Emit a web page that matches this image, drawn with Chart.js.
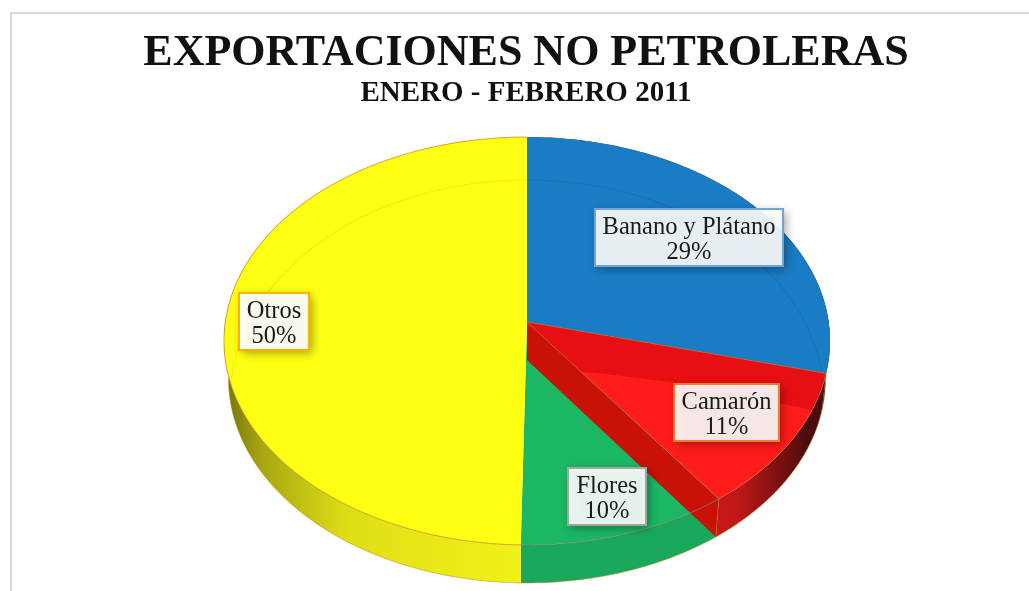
<!DOCTYPE html>
<html>
<head>
<meta charset="utf-8">
<script src="https://cdn.jsdelivr.net/npm/chart.js@4"></script>
<style>
  html, body { margin: 0; padding: 0; background: #fff; overflow: hidden; }
  #frame { position: absolute; left: 10px; top: 12px; width: 1100px; height: 700px; border-left: 2px solid #d9d9d9; border-top: 2px solid #d9d9d9; }
  canvas { position: absolute; left: 0; top: 0; }
</style>
</head>
<body>
<div id="frame"></div>
<canvas id="chart" width="1029" height="591"></canvas>
<script>
// values, labels round them to 29 / 11 / 10 / 50
const categories = ['Banano y Plátano', 'Camarón', 'Flores', 'Otros'];
const shares = [29, 11, 10.3, 49.7];
const sliceColors = ['#1a7cc4', '#ff1c1a', '#1bb763', '#ffff14'];
const title = 'EXPORTACIONES NO PETROLERAS';
const subtitle = 'ENERO - FEBRERO 2011';

// perspective of the disc on screen
const View = { cx: 527, cy: 322, a: 301.7, c: 202.2, e: -0.093, depth: 38, shrink: 0.985 };

const LabelStyles = [
  { x: 595, y: 209, w: 188, h: 57, fill: 'rgba(255,255,255,0.9)', border: '#6fa5da' },
  { x: 674, y: 384, w: 105, h: 57, fill: 'rgba(255,255,255,0.9)', border: '#ed7d31' },
  { x: 568, y: 468, w: 78, h: 57, fill: 'rgba(255,255,255,0.9)', border: '#a5a5a5' },
  { x: 239, y: 293, w: 70, h: 57, fill: 'rgba(255,255,255,0.93)', border: '#ffb000' }
];

function project(angle, r) {
  const u = Math.cos(angle) * r, v = Math.sin(angle) * r;
  const d = 1 + View.e * v;
  return { x: View.cx + View.a * u / d, y: View.cy + View.c * v / d };
}

function lowered(p) {
  return { x: View.cx + (p.x - View.cx) * View.shrink, y: p.y + View.depth };
}

function rimPoints(arc) {
  const pts = [];
  const steps = Math.max(2, Math.ceil((arc.endAngle - arc.startAngle) * 60));
  for (let i = 0; i <= steps; i++) {
    pts.push(project(arc.startAngle + (arc.endAngle - arc.startAngle) * i / steps, 1));
  }
  return pts;
}

function tracePoly(ctx, pts) {
  ctx.beginPath();
  pts.forEach((p, i) => i ? ctx.lineTo(p.x, p.y) : ctx.moveTo(p.x, p.y));
  ctx.closePath();
}

function wallFill(ctx, index) {
  const g = ctx.createLinearGradient(View.cx - 300, 0, View.cx + 300, 0);
  if (index === 3) {
    g.addColorStop(0, '#77770c');
    g.addColorStop(0.06, '#a8a812');
    g.addColorStop(0.2, '#dede16');
    g.addColorStop(0.5, '#f2f218');
    return g;
  }
  if (index === 2) return '#1aa85c';
  g.addColorStop(0.65, '#d81c1c');
  g.addColorStop(0.85, '#c01818');
  g.addColorStop(0.97, '#4a0c0c');
  return g;
}

const pie3d = {
  id: 'pie3d',
  beforeDatasetDraw() {
    return false; // the arcs are redrawn in perspective below
  },
  afterDatasetsDraw(chart) {
    const ctx = chart.ctx;
    const arcs = chart.getDatasetMeta(0).data;
    ctx.save();

    // outer walls
    arcs.forEach((arc, i) => {
      const top = rimPoints(arc);
      tracePoly(ctx, top.concat(top.map(lowered).reverse()));
      ctx.fillStyle = wallFill(ctx, i);
      ctx.fill();
    });
    ctx.lineWidth = 0.7;
    ctx.strokeStyle = 'rgba(190,130,20,0.7)';
    const lowerEdge = arcs.flatMap(a => rimPoints(a)).map(lowered).filter(p => p.y > View.cy + 55);
    ctx.beginPath();
    lowerEdge.forEach((p, i) => i ? ctx.lineTo(p.x, p.y) : ctx.moveTo(p.x, p.y));
    ctx.stroke();

    // top faces
    arcs.forEach((arc) => {
      const pts = [{ x: View.cx, y: View.cy }].concat(rimPoints(arc));
      tracePoly(ctx, pts);
      ctx.fillStyle = arc.options.backgroundColor;
      ctx.fill();
    });

    // darker band on the Camarón face
    ctx.save();
    tracePoly(ctx, [{ x: View.cx, y: View.cy }].concat(rimPoints(arcs[1])));
    ctx.clip();
    ctx.beginPath();
    ctx.moveTo(View.cx, View.cy);
    ctx.lineTo(850, View.cy);
    ctx.lineTo(850, 420);
    ctx.quadraticCurveTo(700, 380, 560, 370);
    ctx.closePath();
    ctx.fillStyle = '#e60f14';
    ctx.fill();
    ctx.restore();

    // faint bevel ring on the far half
    ctx.save();
    tracePoly(ctx, rimPoints({ startAngle: 0, endAngle: Math.PI * 2 }));
    ctx.clip();
    ctx.beginPath();
    ctx.ellipse(View.cx, 400, 297, 220, 0, Math.PI, Math.PI * 2);
    ctx.strokeStyle = 'rgba(40,40,0,0.09)';
    ctx.lineWidth = 1.2;
    ctx.stroke();
    ctx.restore();

    // inner wall left of the Camarón slice, lies over Flores
    const corner = project(arcs[1].endAngle, 1);
    const centre = { x: View.cx, y: View.cy };
    tracePoly(ctx, [centre, corner, lowered(corner), lowered(centre)]);
    ctx.fillStyle = '#c81208';
    ctx.fill();

    // rim lines
    ctx.lineWidth = 0.8;
    ctx.strokeStyle = 'rgba(130,130,130,0.9)';
    ctx.beginPath();
    rimPoints(arcs[2]).forEach((p, i) => i ? ctx.lineTo(p.x, p.y) : ctx.moveTo(p.x, p.y));
    ctx.stroke();

    ctx.strokeStyle = 'rgba(200,110,30,0.8)';
    [arcs[1], arcs[3]].forEach((arc) => {
      ctx.beginPath();
      rimPoints(arc).forEach((p, i) => i ? ctx.lineTo(p.x, p.y) : ctx.moveTo(p.x, p.y));
      ctx.stroke();
    });
    ctx.beginPath();
    ctx.moveTo(centre.x, centre.y);
    ctx.lineTo(corner.x, corner.y);
    ctx.lineTo(lowered(corner).x, lowered(corner).y);
    ctx.moveTo(centre.x, centre.y);
    const bananaEnd = project(arcs[0].endAngle, 1);
    ctx.lineTo(bananaEnd.x, bananaEnd.y);
    ctx.stroke();
    ctx.restore();

    // data labels
    arcs.forEach((arc, i) => {
      const s = LabelStyles[i];
      ctx.save();
      ctx.shadowColor = 'rgba(0,0,0,0.4)';
      ctx.shadowBlur = 9;
      ctx.shadowOffsetX = 3;
      ctx.shadowOffsetY = 3;
      ctx.fillStyle = s.fill;
      ctx.fillRect(s.x, s.y, s.w, s.h);
      ctx.shadowColor = 'transparent';
      ctx.strokeStyle = s.border;
      ctx.lineWidth = 2;
      ctx.strokeRect(s.x, s.y, s.w, s.h);
      ctx.fillStyle = '#1a1a1a';
      ctx.font = '24.5px "Liberation Serif"';
      ctx.textAlign = 'center';
      ctx.textBaseline = 'middle';
      ctx.fillText(categories[i], s.x + s.w / 2, s.y + 18.5);
      ctx.fillText(Math.round(shares[i]) + '%', s.x + s.w / 2, s.y + 43.5);
      ctx.restore();
    });
  }
};

new Chart(document.getElementById('chart'), {
  type: 'pie',
  data: {
    labels: categories,
    datasets: [{ data: shares, backgroundColor: sliceColors, borderWidth: 0 }]
  },
  options: {
    responsive: false,
    animation: false,
    layout: { padding: { left: 23 } },
    plugins: {
      legend: { display: false },
      tooltip: { enabled: false },
      title: {
        display: true,
        text: title,
        color: '#111',
        font: { family: '"Liberation Serif"', size: 44, weight: 'bold', lineHeight: 1 },
        padding: { top: 32, bottom: 3 }
      },
      subtitle: {
        display: true,
        text: subtitle,
        color: '#111',
        font: { family: '"Liberation Serif"', size: 29, weight: 'bold', lineHeight: 1 },
        padding: { top: 0, bottom: 10 }
      }
    }
  },
  plugins: [pie3d]
});
</script>
</body>
</html>
